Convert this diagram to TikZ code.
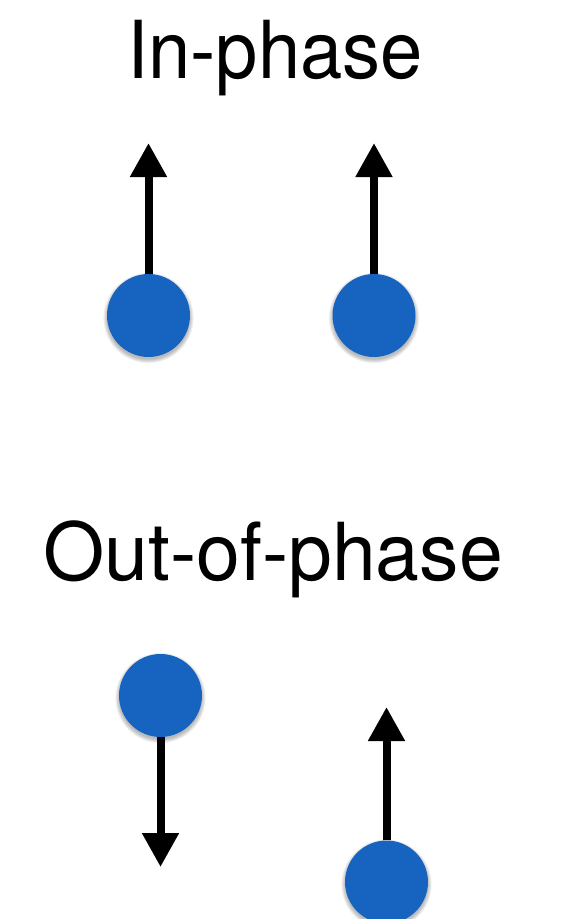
\documentclass[tikz,border=0pt]{standalone}
\usepackage{fontspec}
\setmainfont{TeX Gyre Heros}
\usetikzlibrary{arrows.meta,backgrounds,calc}
\definecolor{ballblue}{RGB}{23,100,192}
\tikzset{
  ball/.style={circle, fill=ballblue, minimum size=83pt, inner sep=0pt},
  vec/.style={line width=8pt, -{Triangle[width=35pt,length=34pt]}},
  title/.style={font=\fontsize{80}{90}\selectfont, anchor=base, inner sep=0pt}
}
\begin{document}
\begin{tikzpicture}[x=1pt,y=-1pt]
\useasboundingbox (0,0) rectangle (565,919);
% titles
\node[title] (t1) at (275,78) {\scalebox{0.95}[1]{In-phase}};
\node[title] (t2) at (273,580) {\scalebox{0.985}[1]{Out-of-phase}};
% in-phase
\node[ball] (a1) at (148.5,315.5) {};
\node[ball] (a2) at (374,315.5) {};
\coordinate (ha1) at (148.5,143);
\coordinate (ha2) at (374,143);
\draw[vec] (a1.north) -- (ha1);
\draw[vec] (a2.north) -- (ha2);
% out-of-phase
\node[ball] (b1) at (160.5,695.5) {};
\node[ball] (b2) at (386.5,882) {};
\coordinate (hb1) at (160.5,867);
\coordinate (hb2) at (386.5,707);
\draw[vec] (b1.south) -- (hb1);
\draw[vec] (b2.north) -- (hb2);
% soft shadows
\begin{scope}[on background layer]
\foreach \n in {a1,a2,b1,b2}{
  \foreach \r in {0,1,2,3,4}{
    \fill[black, opacity=0.06] ($(\n.center)+(0,2.5)$) circle ({41.5+\r*0.9});
  }
}
\end{scope}
\end{tikzpicture}
\end{document}
